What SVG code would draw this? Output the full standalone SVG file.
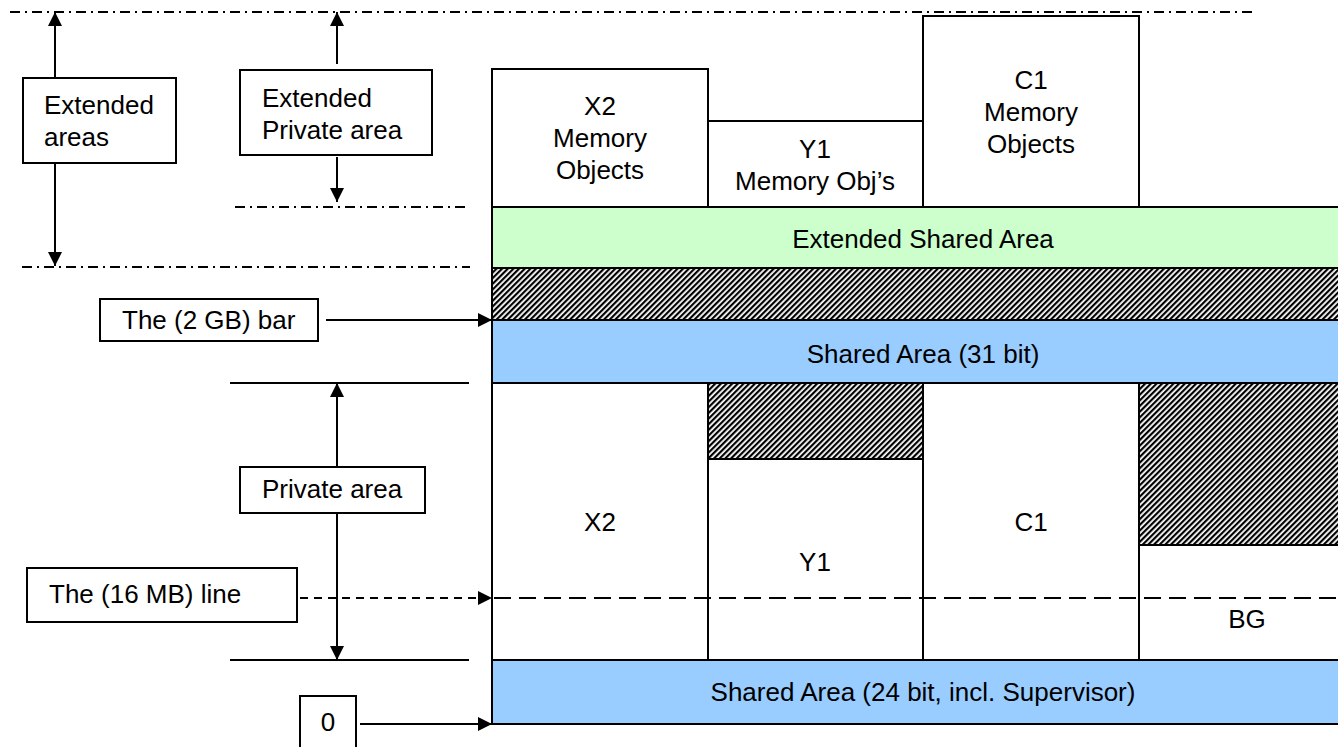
<svg xmlns="http://www.w3.org/2000/svg" width="1338" height="747" viewBox="0 0 1338 747">
  <style>
    text { font-family: "Liberation Sans", Arial, sans-serif; font-size: 26px; fill: #000; }
    .c { text-anchor: middle; }
    .box { fill: #fff; stroke: #000; stroke-width: 2; }
    .ln { stroke: #000; stroke-width: 2; fill: none; }
    .dd { stroke: #000; stroke-width: 2; fill: none; stroke-dasharray: 10 5 2 5; }
    .dash { stroke: #000; stroke-width: 2; fill: none; stroke-dasharray: 8 6; }
    .dash-long { stroke: #000; stroke-width: 2; fill: none; stroke-dasharray: 17 8; }
    .green { fill: #CCFFCC; stroke: #000; stroke-width: 2; }
    .blue { fill: #99CCFF; stroke: #000; stroke-width: 2; }
    .hatch { fill: url(#hatch); stroke: #000; stroke-width: 2; }
  </style>
  <defs>
    <pattern id="hatch" patternUnits="userSpaceOnUse" width="4" height="4" patternTransform="rotate(45)">
      <rect width="4" height="4" fill="#fff"/>
      <line x1="1.1" y1="0" x2="1.1" y2="4" stroke="#000" stroke-width="2.2"/>
    </pattern>
    <marker id="arr" viewBox="0 0 14 14" refX="14" refY="7" markerWidth="14" markerHeight="14" markerUnits="userSpaceOnUse" orient="auto">
      <path d="M0,0 L14,7 L0,14 z" fill="#000"/>
    </marker>
  </defs>

  <!-- boundary guide lines -->
  <g id="guides">
    <line class="dd" x1="10" y1="12" x2="1256" y2="12"/>
    <line class="dd" x1="235" y1="207" x2="470" y2="207"/>
    <line class="dd" x1="22" y1="267" x2="470" y2="267"/>
    <line class="ln" x1="230" y1="383" x2="469" y2="383"/>
    <line class="ln" x1="230" y1="660" x2="469" y2="660"/>
  </g>

  <!-- address space layout -->
  <g id="x2-objects">
    <rect class="box" x="492" y="69" width="216" height="138"/>
    <text class="c" x="600" y="115">X2</text>
    <text class="c" x="600" y="147">Memory</text>
    <text class="c" x="600" y="179">Objects</text>
  </g>
  <g id="y1-objects">
    <rect class="box" x="708" y="121" width="215" height="86"/>
    <text class="c" x="815" y="158">Y1</text>
    <text class="c" x="815" y="190">Memory Obj’s</text>
  </g>
  <g id="c1-objects">
    <rect class="box" x="923" y="16" width="216" height="191"/>
    <text class="c" x="1031" y="89">C1</text>
    <text class="c" x="1031" y="121">Memory</text>
    <text class="c" x="1031" y="153">Objects</text>
  </g>
  <g id="ext-shared">
    <rect class="green" x="492" y="207" width="870" height="61"/>
    <text class="c" x="923" y="248">Extended Shared Area</text>
  </g>
  <g id="bar-gap">
    <rect class="hatch" x="492" y="268" width="870" height="52"/>
  </g>
  <g id="shared-31">
    <rect class="blue" x="492" y="320" width="870" height="63"/>
    <text class="c" x="923" y="363">Shared Area (31 bit)</text>
  </g>
  <g id="x2">
    <rect class="box" x="492" y="383" width="216" height="277"/>
    <text class="c" x="600" y="531">X2</text>
  </g>
  <g id="y1">
    <rect class="box" x="708" y="383" width="215" height="277"/>
    <rect class="hatch" x="708" y="383" width="215" height="76"/>
    <text class="c" x="815" y="571">Y1</text>
  </g>
  <g id="c1">
    <rect class="box" x="923" y="383" width="216" height="277"/>
    <text class="c" x="1031" y="531">C1</text>
  </g>
  <g id="bg">
    <rect class="box" x="1139" y="383" width="223" height="277"/>
    <rect class="hatch" x="1139" y="383" width="223" height="162"/>
    <text class="c" x="1247" y="628">BG</text>
  </g>
  <g id="shared-24">
    <rect class="blue" x="492" y="660" width="870" height="64"/>
    <text class="c" x="923" y="701">Shared Area (24 bit, incl. Supervisor)</text>
  </g>

  <!-- labels -->
  <g id="lbl-ext-areas">
    <rect class="box" x="23" y="78" width="153" height="85"/>
    <text x="44" y="114">Extended</text>
    <text x="44" y="146">areas</text>
  </g>
  <g id="lbl-ext-private">
    <rect class="box" x="240" y="70" width="192" height="85"/>
    <text x="262" y="107">Extended</text>
    <text x="262" y="139">Private area</text>
  </g>
  <g id="lbl-2gb">
    <rect class="box" x="100" y="299" width="218" height="42"/>
    <text x="122" y="329">The (2 GB) bar</text>
  </g>
  <g id="lbl-private">
    <rect class="box" x="240" y="467" width="185" height="46"/>
    <text x="262" y="498">Private area</text>
  </g>
  <g id="lbl-16mb">
    <rect class="box" x="27" y="568" width="270" height="54"/>
    <text x="49" y="603">The (16 MB) line</text>
  </g>
  <g id="lbl-zero">
    <rect class="box" x="300" y="696" width="56" height="60"/>
    <text class="c" x="328" y="731">0</text>
  </g>

  <!-- connectors -->
  <g id="connectors">
    <line class="ln" x1="55" y1="78" x2="55" y2="12" marker-end="url(#arr)"/>
    <line class="ln" x1="55" y1="163" x2="55" y2="266" marker-end="url(#arr)"/>
    <line class="ln" x1="337" y1="64" x2="337" y2="12" marker-end="url(#arr)"/>
    <line class="ln" x1="337" y1="157" x2="337" y2="202" marker-end="url(#arr)"/>
    <line class="ln" x1="337" y1="467" x2="337" y2="383" marker-end="url(#arr)"/>
    <line class="ln" x1="337" y1="513" x2="337" y2="660" marker-end="url(#arr)"/>
    <line class="ln" x1="326" y1="320" x2="492" y2="320" marker-end="url(#arr)"/>
    <line class="dash" x1="300" y1="598" x2="492" y2="598" marker-end="url(#arr)"/>
    <line class="dash-long" x1="494" y1="598" x2="1338" y2="598"/>
    <line class="ln" x1="360" y1="724" x2="492" y2="724" marker-end="url(#arr)"/>
  </g>
</svg>
